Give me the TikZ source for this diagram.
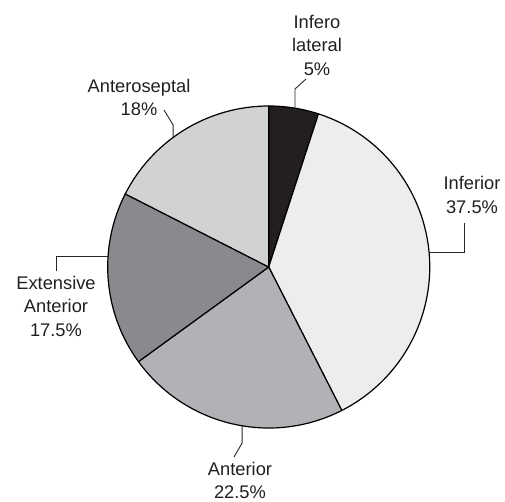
\documentclass[tikz,border=0pt]{standalone}
\usepackage{fontspec}
\setmainfont{Liberation Sans}
\usetikzlibrary{calc}
\begin{document}
\begin{tikzpicture}[x=1pt,y=-1pt,
  slice/.style={draw=black,line width=1.2pt,line join=round},
  leader/.style={draw=black!85,line width=0.9pt},
  lbl/.style={text=txt,align=center,inner sep=0pt,font=\fontsize{18.3}{23.5}\selectfont}]
\definecolor{cIL}{HTML}{231F20}
\definecolor{cInf}{HTML}{EDEDED}
\definecolor{cAnt}{HTML}{B1B2B5}
\definecolor{cExt}{HTML}{898A8E}
\definecolor{cSep}{HTML}{D1D2D4}
\definecolor{txt}{HTML}{231F20}
\useasboundingbox (0,0) rectangle (505,502);
\def\R{161}
\coordinate (C) at (268.7,267);
% slices (angles negated because y axis points down)
\draw[slice,fill=cIL]  (C) -- ++(-90:\R)  arc[start angle=-90,  end angle=-72,  radius=\R] -- cycle;
\draw[slice,fill=cInf] (C) -- ++(-72:\R)  arc[start angle=-72,  end angle=63,   radius=\R] -- cycle;
\draw[slice,fill=cAnt] (C) -- ++(63:\R)   arc[start angle=63,   end angle=144,  radius=\R] -- cycle;
\draw[slice,fill=cExt] (C) -- ++(144:\R)  arc[start angle=144,  end angle=207,  radius=\R] -- cycle;
\draw[slice,fill=cSep] (C) -- ++(207:\R)  arc[start angle=207,  end angle=270,  radius=\R] -- cycle;
% labels
\node[lbl] (lIL)  at (317,45)   {Infero\\lateral\\5\%};
\node[lbl] (lInf) at (472,195)  {Inferior\\37.5\%};
\node[lbl] (lAnt) at (240,480.5){Anterior\\22.5\%};
\node[lbl] (lExt) at (56,306)   {Extensive\\Anterior\\17.5\%};
\node[lbl] (lSep) at (139,97.5) {Anteroseptal\\18\%};
% rim points
\coordinate (rIL)  at ($(C)+(-80.6:\R)$);
\coordinate (rInf) at ($(C)+(-5.3:\R)$);
\coordinate (rAnt) at ($(C)+(99.5:\R)$);
\coordinate (rExt) at ($(C)+(183.6:\R)$);
\coordinate (rSep) at ($(C)+(233.6:\R)$);
% leader lines
\coordinate (bIL) at (295,89);  \coordinate (eIL) at (306,79);
\draw[leader] (rIL) -- (rIL |- bIL) -- (eIL);
\coordinate (bInf) at (464,252); \coordinate (eInf) at (464,223);
\draw[leader] (rInf) -- (rInf -| bInf) -- (eInf);
\coordinate (bAnt) at (242,443); \coordinate (eAnt) at (234,457);
\draw[leader] (rAnt) -- (rAnt |- bAnt) -- (eAnt);
\coordinate (bExt) at (56,257); \coordinate (eExt) at (56,271);
\draw[leader] (rExt) -- (rExt -| bExt) -- (eExt);
\coordinate (bSep) at (173,125); \coordinate (eSep) at (164,110);
\draw[leader] (rSep) -- (rSep |- bSep) -- (eSep);
\end{tikzpicture}
\end{document}
